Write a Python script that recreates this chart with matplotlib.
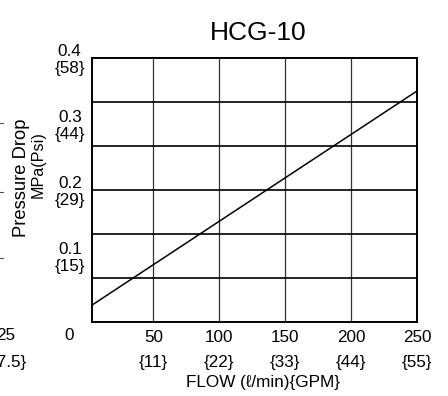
import matplotlib
matplotlib.use("Agg")
import matplotlib.pyplot as plt
from matplotlib.lines import Line2D
import matplotlib.transforms as mtransforms

plt.rcParams['font.family'] = ['Liberation Sans', 'DejaVu Sans']

# Data
flow = [0, 250]
pressure = [0.021, 0.35]

x_ticks = [50, 100, 150, 200, 250]
x_labels = ['50', '100', '150', '200', '250']
x_gpm = ['{11}', '{22}', '{33}', '{44}', '{55}']
y_ticks = [0.1, 0.2, 0.3, 0.4]
y_labels = ['0.1\n{15}', '0.2\n{29}', '0.3\n{44}', '0.4\n{58}']
y_grid = [0.4 * k / 6 for k in range(1, 6)]

title = 'HCG-10'
xlabel = 'FLOW (ℓ/min){GPM}'
ylabel_1 = 'Pressure Drop'
ylabel_2 = 'MPa(Psi)'

FS = 12.3
W, H = 448, 396
fig = plt.figure(figsize=(W / 100, H / 100), dpi=100)
ax = fig.add_axes([92 / W, 1 - 322 / H, (417 - 92) / W, (322 - 58) / H])

ax.plot(flow, pressure, color='black', lw=1.1, clip_on=True)
ax.set_xlim(3.5, 250)
ax.set_ylim(0, 0.4)

ax.set_xticks(x_ticks)
ax.set_xticklabels(x_labels, fontsize=FS)
ax.set_yticks(y_ticks)
ax.set_yticklabels(y_labels, fontsize=FS, linespacing=1.12, multialignment='center')
ax.tick_params(axis='both', which='both', length=0)
ax.tick_params(axis='x', pad=6)
ax.tick_params(axis='y', pad=5)

ax.grid(True, axis='x', which='major', color='#333333', lw=0.9)
for yv in y_grid:
    ax.axhline(yv, color='black', lw=1.2)
for s in ax.spines.values():
    s.set_linewidth(1.4)
    s.set_color('black')

trans = mtransforms.blended_transform_factory(ax.transData, fig.transFigure)
for x, g in zip(x_ticks, x_gpm):
    ax.text(x, 1 - 363 / H, g, transform=trans, ha='center', va='center',
            fontsize=FS, clip_on=False)
# stray "0" label left of axis
ax.text(-14, 1 - 336 / H, '0', transform=trans, ha='center', va='center',
        fontsize=FS, clip_on=False)
# remnants of neighbouring panel
fig.text(15 / W, 1 - 336 / H, '25', ha='right', va='center', fontsize=FS)
fig.text(27 / W, 1 - 362 / H, '{7.5}', ha='right', va='center', fontsize=FS)
for yy in [123, 192, 258]:
    fig.add_artist(Line2D([0, 3 / W], [1 - yy / H, 1 - yy / H], color='#555555', lw=0.8))

fig.text(258 / W, 1 - 33 / H, title, ha='center', va='center', fontsize=19)
fig.text(263 / W, 1 - 383 / H, xlabel, ha='center', va='center', fontsize=FS)
fig.text(21 / W, 1 - 178 / H, ylabel_1, ha='center', va='center', fontsize=13.2,
         rotation=90)
fig.text(38 / W, 1 - 165 / H, ylabel_2, ha='center', va='center', fontsize=11.6,
         rotation=90)

fig.savefig('out.png', dpi=100)
